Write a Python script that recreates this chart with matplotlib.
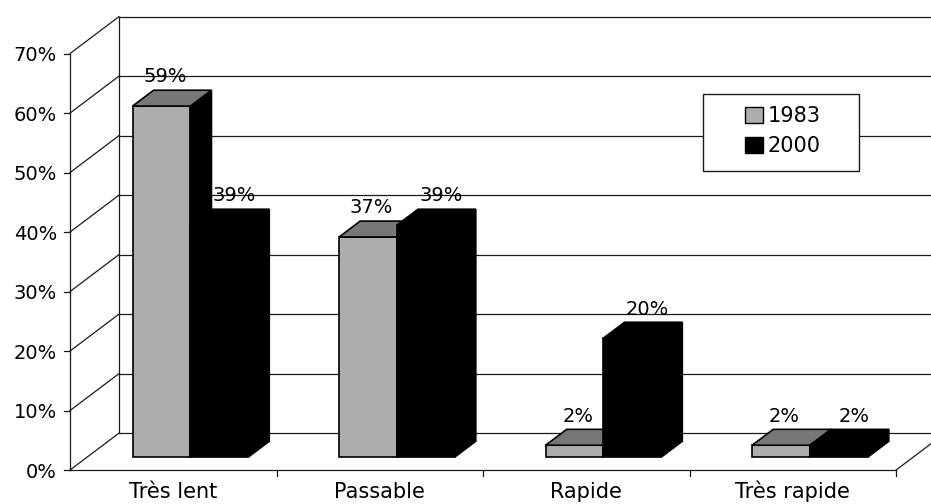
import matplotlib.pyplot as plt
from matplotlib.patches import Polygon, Patch, Rectangle

categories = ["Très lent", "Passable", "Rapide", "Très rapide"]
series_names = ["1983", "2000"]
values_1983 = [59, 37, 2, 2]
values_2000 = [39, 39, 20, 2]
y_ticks = [0, 10, 20, 30, 40, 50, 60, 70]

plt.rcParams["font.family"] = ["DejaVu Sans"]

# oblique offset of the back wall (data units) and where bars sit in depth
DX, DY = 0.237, 6.2
BAR_FRONT, BAR_BACK = 0.35, 0.78
BAR_W = 0.28
LIGHT, MID = "#adadad", "#777777"
INK = "#1a1a1a"


def draw_bar(ax, xl, h, front_col, top_col):
    fx, fy = DX * BAR_FRONT, DY * BAR_FRONT
    bx, by = DX * BAR_BACK, DY * BAR_BACK
    xr = xl + BAR_W
    faces = [
        ([(xl + fx, fy), (xr + fx, fy), (xr + fx, h + fy), (xl + fx, h + fy)], front_col),
        ([(xr + fx, fy), (xr + bx, by), (xr + bx, h + by), (xr + fx, h + fy)], "black"),
        ([(xl + fx, h + fy), (xr + fx, h + fy), (xr + bx, h + by), (xl + bx, h + by)], top_col),
    ]
    for pts, col in faces:
        ax.add_patch(Polygon(pts, closed=True, facecolor=col, edgecolor="black",
                             lw=1.2, joinstyle="miter", zorder=3))


fig = plt.figure(figsize=(9.31, 5.04), dpi=100)
ax = fig.add_axes([0, 0, 1, 1])
ax.set_xlim(-0.839, 3.669)
ax.set_ylim(-5.71, 79.0)
ax.axis("off")

line_kw = dict(color=INK, lw=0.9, zorder=1)
n = len(categories)
x0, x1 = -0.5, n - 0.5
top = y_ticks[-1]

# walls, gridlines and value axis
for t in y_ticks:
    ax.plot([x0, x0 + DX], [t, t + DY], **line_kw)
    ax.plot([x0 + DX, x1 + DX + 0.5], [t + DY, t + DY], **line_kw)
    ax.plot([x0 - 0.03, x0], [t, t], **line_kw)
    ax.text(x0 - 0.063, t, f"{t}%", ha="right", va="center_baseline", fontsize=14)
ax.plot([x0, x0], [0, top], **line_kw)
ax.plot([x0 + DX, x0 + DX], [DY, top + DY], **line_kw)
ax.plot([x0, x1], [0, 0], **line_kw)
ax.plot([x1, x1 + DX], [0, DY], **line_kw)
for i in range(1, n + 1):
    ax.plot([x0 + i, x0 + i], [0, -1.0], **line_kw)

# bars (label shift differs per series so labels clear the neighbouring bar)
series = [(values_1983, LIGHT, MID, 0.10), (values_2000, "black", "black", 0.155)]
for i in range(n):
    for j, (vals, fc, tc, shift) in enumerate(series):
        xl = i - BAR_W + j * BAR_W
        h = vals[i]
        draw_bar(ax, xl, h, fc, tc)
        ax.text(xl + BAR_W / 2 + shift, h + DY * BAR_BACK + 1.3, f"{h}%",
                ha="center", va="baseline", fontsize=14, zorder=4)
    ax.text(i, -4.75, categories[i], ha="center", va="baseline", fontsize=15)

# legend
ax.add_patch(Rectangle((703 / 931, 1 - 171 / 504), 156 / 931, 77 / 504,
                       transform=ax.transAxes, facecolor="white",
                       edgecolor=INK, lw=1.0, zorder=5))
handles = [Patch(facecolor=LIGHT, edgecolor="black", lw=1.0),
           Patch(facecolor="black", edgecolor="black", lw=1.0)]
leg = ax.legend(handles, series_names, frameon=False, loc="center",
                bbox_to_anchor=(783 / 931, 1 - 131 / 504), fontsize=15,
                handlelength=0.85, handleheight=0.8, handletextpad=0.25,
                labelspacing=0.5, borderpad=0)
leg.set_zorder(6)

fig.savefig("out.png", dpi=100)
